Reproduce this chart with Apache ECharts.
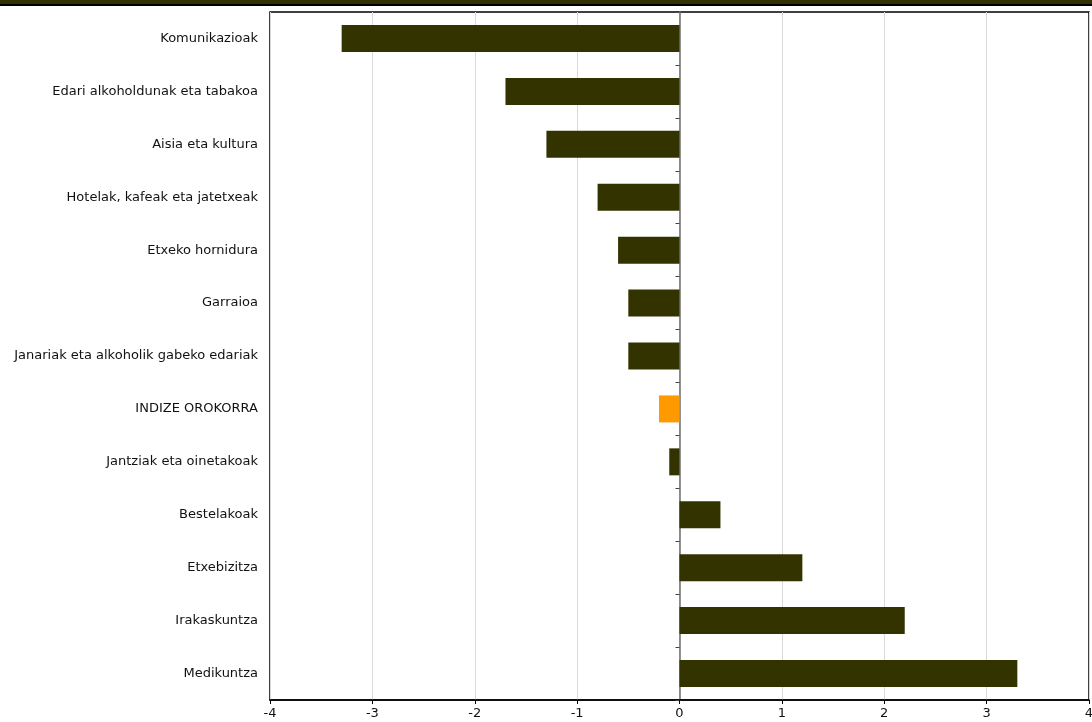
<!DOCTYPE html>
<html>
<head>
<meta charset="utf-8">
<script src="https://cdn.jsdelivr.net/npm/echarts@6/dist/echarts.min.js"></script>
<style>
  html, body { margin: 0; padding: 0; background: #fff; }
  #chart { width: 1092px; height: 722px; }
</style>
</head>
<body>
<div id="chart"></div>
<script>
// categories listed bottom to top (category axis starts at bottom)
var categories = [
  'Medikuntza',
  'Irakaskuntza',
  'Etxebizitza',
  'Bestelakoak',
  'Jantziak eta oinetakoak',
  'INDIZE OROKORRA',
  'Janariak eta alkoholik gabeko edariak',
  'Garraioa',
  'Etxeko hornidura',
  'Hotelak, kafeak eta jatetxeak',
  'Aisia eta kultura',
  'Edari alkoholdunak eta tabakoa',
  'Komunikazioak'
]
var values = [3.3, 2.2, 1.2, 0.4, -0.1, -0.2, -0.5, -0.5, -0.6, -0.8, -1.3, -1.7, -3.3]
var highlight = 'INDIZE OROKORRA'
var xTicks = [-4, 4, 1]

var chart = echarts.init(document.getElementById('chart'))
var font = '"DejaVu Sans", Verdana, sans-serif'

var option = {
  animation: false,
  grid: {
    left: 270, top: 12, right: 3, bottom: 22,
    containLabel: false,
    outerBoundsMode: 'none',
    show: true, borderColor: '#000', borderWidth: 1.5, backgroundColor: '#fff'
  },
  graphic: [
    { type: 'rect', shape: { x: 0, y: 0, width: 1092, height: 4 }, style: { fill: '#333300' } },
    { type: 'rect', shape: { x: 0, y: 4, width: 1092, height: 2 }, style: { fill: '#000' } }
  ],
  xAxis: {
    type: 'value',
    min: xTicks[0],
    max: xTicks[1],
    interval: xTicks[2],
    axisLine: { show: true, onZero: false, lineStyle: { color: '#000', width: 1.5 } },
    axisTick: { show: true, length: 4, lineStyle: { color: '#000' } },
    axisLabel: { color: '#111', fontFamily: font, fontSize: 13, margin: 7 },
    splitLine: { show: true, lineStyle: { color: '#d9d9d9', width: 1 } }
  },
  yAxis: [
    {
      type: 'category',
      data: categories,
      position: 'left',
      axisLine: { show: false, onZero: false },
      axisTick: { show: false },
      axisLabel: { color: '#111', fontFamily: font, fontSize: 13, margin: 12 }
    },
    {
      type: 'category',
      data: categories,
      position: 'left',
      axisLine: { show: true, onZero: true, lineStyle: { color: '#6e6e6e', width: 1.5 } },
      axisTick: { show: true, inside: false, length: 4, lineStyle: { color: '#444' } },
      axisLabel: { show: false }
    }
  ],
  series: [
    {
      type: 'bar',
      yAxisIndex: 0,
      barWidth: '51%',
      data: values.map(function (v, i) {
        return {
          value: v,
          itemStyle: { color: categories[i] === highlight ? '#ff9900' : '#333300' }
        }
      }),
      z: 1
    }
  ]
}
chart.setOption(option)
</script>
</body>
</html>
